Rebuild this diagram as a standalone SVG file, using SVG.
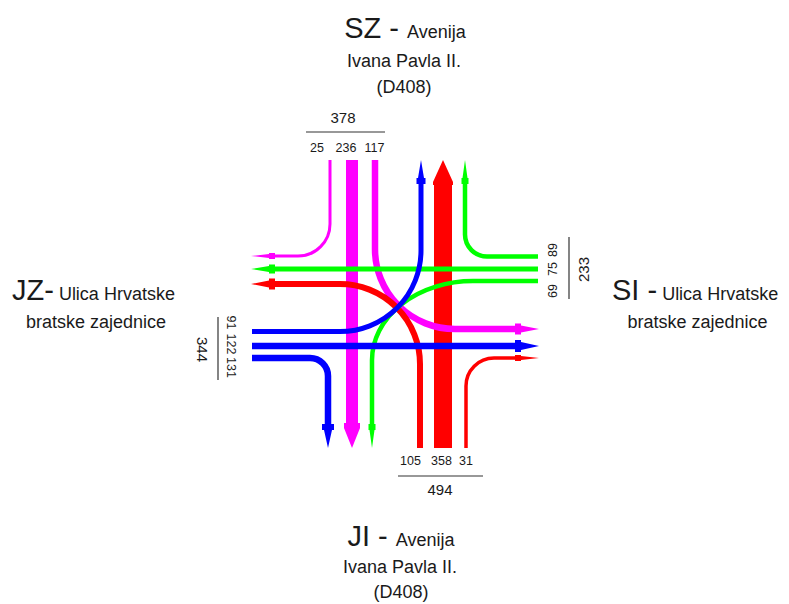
<svg xmlns="http://www.w3.org/2000/svg" width="789" height="604" viewBox="0 0 789 604">
<style>
text{font-family:"Liberation Sans",Arial,sans-serif;fill:#1a1a1a}
.big{font-size:29px}
.sub{font-size:18px}
.n{font-size:12.5px;text-anchor:middle}
.t{font-size:15px;text-anchor:middle}
.rule{stroke:#333;stroke-width:1.2;fill:none}
.f{fill:none;stroke-linecap:butt;stroke-linejoin:round}
.m{stroke:#FF00FF}.mf{fill:#FF00FF}
.r{stroke:#FF0000}.rf{fill:#FF0000}
.g{stroke:#00FF00}.gf{fill:#00FF00}
.b{stroke:#0000FF}.bf{fill:#0000FF}
</style>
<rect width="789" height="604" fill="#fff"/>

<g id="node-SZ">
<text x="405" y="38" text-anchor="middle"><tspan class="big">SZ - </tspan><tspan class="sub">Avenija</tspan></text>
<text x="404" y="67" class="sub" text-anchor="middle">Ivana Pavla II.</text>
<text x="404" y="93" class="sub" text-anchor="middle">(D408)</text>
</g>
<g id="node-JI">
<text x="401" y="546" text-anchor="middle"><tspan class="big">JI - </tspan><tspan class="sub">Avenija</tspan></text>
<text x="400" y="573" class="sub" text-anchor="middle">Ivana Pavla II.</text>
<text x="401" y="598" class="sub" text-anchor="middle">(D408)</text>
</g>
<g id="node-JZ">
<text x="12" y="300"><tspan class="big">JZ-</tspan><tspan class="sub"> Ulica Hrvatske</tspan></text>
<text x="96" y="328" class="sub" text-anchor="middle">bratske zajednice</text>
</g>
<g id="node-SI">
<text x="612" y="300"><tspan class="big">SI -</tspan><tspan class="sub"> Ulica Hrvatske</tspan></text>
<text x="697.5" y="328" class="sub" text-anchor="middle">bratske zajednice</text>
</g>

<g id="counts-SZ">
<text x="343" y="123" class="t">378</text>
<line x1="306" y1="132" x2="385" y2="132" class="rule"/>
<text x="317" y="152" class="n">25</text>
<text x="346" y="152" class="n">236</text>
<text x="374.5" y="152" class="n">117</text>
</g>
<g id="counts-JI">
<text x="410.5" y="465" class="n">105</text>
<text x="441.5" y="465" class="n">358</text>
<text x="466" y="465" class="n">31</text>
<line x1="398" y1="476" x2="483" y2="476" class="rule"/>
<text x="440" y="495" class="t">494</text>
</g>
<g id="counts-SI">
<text class="n" transform="translate(557,250) rotate(-90)">89</text>
<text class="n" transform="translate(557,269) rotate(-90)">75</text>
<text class="n" transform="translate(557,291) rotate(-90)">69</text>
<line x1="569" y1="237" x2="569" y2="299" class="rule"/>
<text class="t" transform="translate(589,269.5) rotate(-90)">233</text>
</g>
<g id="counts-JZ">
<text class="n" transform="translate(227,322.5) rotate(90)">91</text>
<text class="n" transform="translate(227,344) rotate(90)">122</text>
<text class="n" transform="translate(227,367.5) rotate(90)">131</text>
<line x1="218" y1="317" x2="218" y2="380" class="rule"/>
<text class="t" transform="translate(197,349.5) rotate(90)">344</text>
</g>

<g id="connectors">
<!-- straight through, thick -->
<g id="flow-SZ-236">
<path class="f m" stroke-width="12" d="M352,160 V426"/>
<polygon class="mf" points="352,448 360,428 360,423 344,423 344,428"/>
</g>
<g id="flow-JI-358">
<path class="f r" stroke-width="18" d="M443,448 V183"/>
<polygon class="rf" points="443,160 453,182 453,185 433,185 433,182"/>
</g>
<!-- SZ -->
<g id="flow-SZ-25">
<path class="f m" stroke-width="3" d="M330,160 V224 A32,32 0 0 1 298,256 H272"/>
<polygon class="mf" points="251,256 269,254 269,253 275,253 275,259 269,259 269,258"/>
</g>
<g id="flow-SZ-117">
<path class="f m" stroke-width="6.5" d="M375,160 V249 A80,80 0 0 0 455,329 H518"/>
<polygon class="mf" points="539,329 521,325.5 521,323.5 515,323.5 515,334.5 521,334.5 521,332.5"/>
</g>
<!-- JI -->
<g id="flow-JI-105">
<path class="f r" stroke-width="6" d="M420,448 V364 A80,80 0 0 0 340,284 H272"/>
<polygon class="rf" points="251,284 269,280.5 269,278.5 275,278.5 275,289.5 269,289.5 269,287.5"/>
</g>
<g id="flow-JI-31">
<path class="f r" stroke-width="3.5" d="M466,448 V386 A28,28 0 0 1 494,358 H518"/>
<polygon class="rf" points="539,358 521,356 521,355 515,355 515,361 521,361 521,360"/>
</g>
<!-- SI -->
<g id="flow-SI-89">
<path class="f g" stroke-width="4.5" d="M538,256.5 H487 A22,22 0 0 1 465,234.5 V181"/>
<polygon class="gf" points="465,160 467.5,178 468.5,178 468.5,184 461.5,184 461.5,178 462.5,178"/>
</g>
<g id="flow-SI-75">
<path class="f g" stroke-width="5" d="M538,269 H272"/>
<polygon class="gf" points="251,269 269,266 269,264.5 275,264.5 275,273.5 269,273.5 269,272"/>
</g>
<g id="flow-SI-69">
<path class="f g" stroke-width="4.5" d="M538,281 H473 A101,79 0 0 0 372,360 V427"/>
<polygon class="gf" points="372,448 374.5,430 375.5,430 375.5,424 368.5,424 368.5,430 369.5,430"/>
</g>
<!-- JZ -->
<g id="flow-JZ-91">
<path class="f b" stroke-width="5" d="M252,331.5 H340 A81,81 0 0 0 421,250.5 V181"/>
<polygon class="bf" points="421,160 424,178 425.5,178 425.5,184 416.5,184 416.5,178 418,178"/>
</g>
<g id="flow-JZ-122">
<path class="f b" stroke-width="6.5" d="M252,346 H518"/>
<polygon class="bf" points="539,346 521,342 521,340 515,340 515,352 521,352 521,350"/>
</g>
<g id="flow-JZ-131">
<path class="f b" stroke-width="6.5" d="M252,358 H310 A18,18 0 0 1 328,376 V427"/>
<polygon class="bf" points="328,448 332,430 334,430 334,424 322,424 322,430 324,430"/>
</g>
</g>
</svg>
